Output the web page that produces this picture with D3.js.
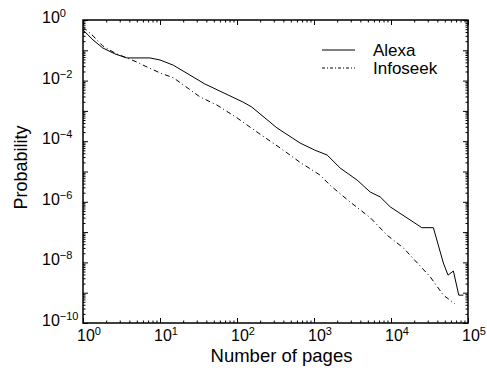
<!DOCTYPE html>
<html>
<head>
<meta charset="utf-8">
<script src="https://cdn.jsdelivr.net/npm/d3@7"></script>
<style>
  body { margin: 0; background: #fff; }
  svg { font-family: "Liberation Sans", Arial, Helvetica, sans-serif; }
</style>
</head>
<body>
<div id="chart"></div>
<script>
// Alexa: number of pages vs probability
const alexaPages = [1, 1.35, 1.8, 2.6, 3.7, 7.4, 10, 15, 38, 120, 155, 330, 660, 1020, 1480, 2190, 3630, 5370, 7240, 9770, 22400, 25100, 35500, 47900, 55000, 64600, 75900, 87100];
const alexaProb = [0.47, 0.22, 0.12, 0.076, 0.056, 0.056, 0.048, 0.032, 0.0078, 0.00195, 0.00135, 2.75e-4, 8.7e-5, 5.1e-5, 3.5e-5, 1.3e-5, 5.2e-6, 2.1e-6, 1.45e-6, 6.8e-7, 1.7e-7, 1.4e-7, 1.4e-7, 9.5e-9, 3.8e-9, 5.2e-9, 8.3e-10, 8.3e-10];

// Infoseek
const infoseekPages = [1, 1.35, 1.8, 2.6, 3.7, 5.0, 6.8, 10, 15, 33, 55, 100, 182, 363, 660, 1200, 1620, 2950, 5370, 8910, 14500, 32400, 47900, 67600];
const infoseekProb = [0.59, 0.30, 0.14, 0.081, 0.056, 0.041, 0.028, 0.018, 0.0123, 0.0029, 0.00155, 5.9e-4, 2.0e-4, 6.0e-5, 2.0e-5, 7.6e-6, 3.5e-6, 9.8e-7, 3.0e-7, 7.9e-8, 3.0e-8, 3.3e-9, 8.3e-10, 4.3e-10];

const xTickExp = [0, 1, 2, 3, 4, 5];
const yTickExp = [0, -2, -4, -6, -8, -10];
const seriesNames = ["Alexa", "Infoseek"];

const width = 487, height = 374;
const mLeft = 83, mRight = 468, mTop = 20, mBottom = 323;

const svg = d3.select("#chart").append("svg")
  .attr("width", width)
  .attr("height", height);

const x = d3.scaleLog().domain([1, 1e5]).range([mLeft, mRight]);
const y = d3.scaleLog().domain([1e-10, 1]).range([mBottom, mTop]);

// minor + major tick values
const xMajor = d3.range(0, 6).map(e => Math.pow(10, e));
const xMinor = [];
for (let e = 0; e < 5; e++) for (let k = 2; k < 10; k++) xMinor.push(k * Math.pow(10, e));
const yMajor = d3.range(-10, 1).map(e => Math.pow(10, e));
const yMinor = [];
for (let e = -10; e < 0; e++) for (let k = 2; k < 10; k++) yMinor.push(k * Math.pow(10, e));

function tickAxis(axis, tr, vals, size) {
  const g = svg.append("g")
    .attr("transform", tr)
    .call(axis.tickValues(vals).tickSize(size).tickFormat(""));
  g.select(".domain").remove();
  g.selectAll("line").attr("stroke", "#000").attr("stroke-width", 1);
}

// ticks point inward on all four sides
tickAxis(d3.axisBottom(x), `translate(0,${mBottom})`, xMajor, -5);
tickAxis(d3.axisBottom(x), `translate(0,${mBottom})`, xMinor, -2.5);
tickAxis(d3.axisTop(x), `translate(0,${mTop})`, xMajor, -5);
tickAxis(d3.axisTop(x), `translate(0,${mTop})`, xMinor, -2.5);
tickAxis(d3.axisLeft(y), `translate(${mLeft},0)`, yMajor, -5);
tickAxis(d3.axisLeft(y), `translate(${mLeft},0)`, yMinor, -2.5);
tickAxis(d3.axisRight(y), `translate(${mRight},0)`, yMajor, -5);
tickAxis(d3.axisRight(y), `translate(${mRight},0)`, yMinor, -2.5);

// frame
svg.append("rect")
  .attr("x", mLeft).attr("y", mTop)
  .attr("width", mRight - mLeft).attr("height", mBottom - mTop)
  .attr("fill", "none").attr("stroke", "#000").attr("stroke-width", 1.5);

// x tick labels
xTickExp.forEach(e => {
  const t = svg.append("text")
    .attr("x", x(Math.pow(10, e)) + 6)
    .attr("y", mBottom + 18)
    .attr("text-anchor", "middle")
    .attr("font-size", 16)
    .text("10");
  t.append("tspan").attr("dy", -6).attr("font-size", 11).text(e);
});

// y tick labels
yTickExp.forEach(e => {
  const t = svg.append("text")
    .attr("x", 42)
    .attr("y", y(Math.pow(10, e)) + 3)
    .attr("font-size", 16)
    .text("10");
  t.append("tspan").attr("dy", -6).attr("font-size", 11).text(e < 0 ? "\u2212" + (-e) : e);
});

// axis titles
svg.append("text")
  .attr("x", (mLeft + mRight) / 2 + 6)
  .attr("y", 362)
  .attr("text-anchor", "middle")
  .attr("font-size", 18.5)
  .text("Number of pages");

svg.append("text")
  .attr("transform", `translate(27,${(mTop + mBottom) / 2 - 4}) rotate(-90)`)
  .attr("text-anchor", "middle")
  .attr("font-size", 18)
  .text("Probability");

// lines
const line = d3.line().x(d => x(d[0])).y(d => y(d[1]));
const alexa = alexaPages.map((p, i) => [p, alexaProb[i]]);
const infoseek = infoseekPages.map((p, i) => [p, infoseekProb[i]]);
const dashes = [null, "5,3,1,3"];

[alexa, infoseek].forEach((data, i) => {
  svg.append("path")
    .datum(data)
    .attr("d", line)
    .attr("fill", "none")
    .attr("stroke", "#000")
    .attr("stroke-width", 1)
    .attr("stroke-dasharray", dashes[i]);
});

// legend
seriesNames.forEach((name, i) => {
  const ly = 50 + i * 18;
  svg.append("line")
    .attr("x1", 322).attr("x2", 355)
    .attr("y1", ly).attr("y2", ly)
    .attr("stroke", "#000").attr("stroke-width", 1)
    .attr("stroke-dasharray", i ? "3,2,1,2" : null);
  svg.append("text")
    .attr("x", 373).attr("y", ly + 6)
    .attr("font-size", 17)
    .text(name);
});
</script>
</body>
</html>
